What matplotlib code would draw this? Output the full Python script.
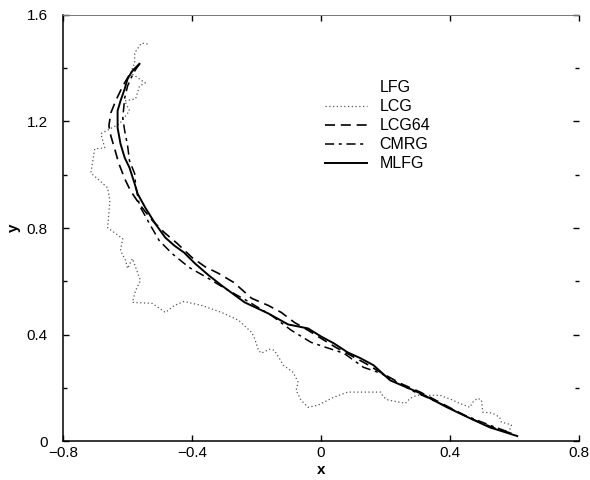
import matplotlib
matplotlib.use("Agg")
import matplotlib.pyplot as plt
from matplotlib.lines import Line2D
from matplotlib.ticker import MultipleLocator

plt.rcParams['font.family'] = ['Liberation Sans', 'DejaVu Sans']

# trajectories
lcg_x = [-0.538, -0.557, -0.578, -0.578, -0.591, -0.545, -0.563, -0.575, -0.609, -0.594,
         -0.625, -0.683, -0.671, -0.702, -0.714, -0.662, -0.655, -0.662, -0.615, -0.622,
         -0.606, -0.600, -0.585, -0.560, -0.575, -0.585, -0.523, -0.483, -0.455, -0.425,
         -0.369, -0.308, -0.255, -0.215, -0.206, -0.194, -0.185, -0.160, -0.145, -0.129,
         -0.117, -0.086, -0.071, -0.077, -0.062, -0.040, -0.009, 0.040, 0.083, 0.132,
         0.185, 0.194, 0.209, 0.262, 0.277, 0.298, 0.369, 0.409, 0.422, 0.462,
         0.471, 0.486, 0.498, 0.502, 0.532, 0.554, 0.560, 0.575, 0.591, 0.585]
lcg_y = [1.491, 1.494, 1.457, 1.419, 1.382, 1.345, 1.333, 1.285, 1.277, 1.240,
         1.191, 1.154, 1.101, 1.097, 1.007, 0.951, 0.903, 0.801, 0.760, 0.715,
         0.678, 0.648, 0.685, 0.603, 0.566, 0.521, 0.517, 0.483, 0.509, 0.524,
         0.509, 0.483, 0.453, 0.408, 0.386, 0.341, 0.330, 0.345, 0.341, 0.311,
         0.285, 0.258, 0.221, 0.191, 0.154, 0.127, 0.135, 0.165, 0.184, 0.184,
         0.184, 0.165, 0.154, 0.142, 0.161, 0.172, 0.172, 0.154, 0.146, 0.127,
         0.146, 0.161, 0.154, 0.109, 0.105, 0.090, 0.071, 0.067, 0.060, 0.041]

lcg64_x = [-0.563, -0.591, -0.615, -0.637, -0.652, -0.658, -0.652, -0.640, -0.628, -0.609,
           -0.591, -0.560, -0.523, -0.486, -0.446, -0.400, -0.360, -0.317, -0.271, -0.215,
           -0.163, -0.123, -0.083, -0.040, 0.000, 0.046, 0.092, 0.138, 0.185, 0.246,
           0.308, 0.385, 0.462, 0.538, 0.600]
lcg64_y = [1.416, 1.382, 1.333, 1.277, 1.232, 1.184, 1.146, 1.097, 1.045, 0.985,
           0.940, 0.884, 0.828, 0.783, 0.742, 0.689, 0.655, 0.629, 0.596, 0.536,
           0.509, 0.483, 0.446, 0.416, 0.386, 0.352, 0.322, 0.292, 0.258, 0.217,
           0.184, 0.135, 0.086, 0.049, 0.026]

cmrg_x = [-0.563, -0.582, -0.600, -0.609, -0.615, -0.609, -0.600, -0.594, -0.578, -0.575,
          -0.563, -0.532, -0.502, -0.462, -0.409, -0.348, -0.298, -0.231, -0.154, -0.092,
          -0.031, 0.015, 0.071, 0.132, 0.185, 0.225, 0.292, 0.369, 0.446, 0.523, 0.591]
cmrg_y = [1.416, 1.382, 1.333, 1.288, 1.213, 1.165, 1.109, 1.052, 1.004, 0.959,
          0.884, 0.816, 0.753, 0.704, 0.652, 0.610, 0.573, 0.528, 0.472, 0.416,
          0.371, 0.352, 0.330, 0.277, 0.255, 0.228, 0.184, 0.142, 0.097, 0.060, 0.030]

mlfg_x = [-0.563, -0.585, -0.600, -0.609, -0.622, -0.631, -0.631, -0.622, -0.609, -0.594,
          -0.578, -0.569, -0.545, -0.514, -0.483, -0.455, -0.425, -0.391, -0.348, -0.308,
          -0.237, -0.163, -0.102, -0.040, 0.000, 0.040, 0.083, 0.123, 0.163, 0.215,
          0.308, 0.391, 0.462, 0.523, 0.609]
mlfg_y = [1.416, 1.390, 1.360, 1.322, 1.277, 1.240, 1.176, 1.116, 1.064, 1.026,
          0.966, 0.929, 0.876, 0.816, 0.764, 0.734, 0.708, 0.667, 0.622, 0.584,
          0.521, 0.479, 0.438, 0.423, 0.393, 0.367, 0.333, 0.311, 0.285, 0.228,
          0.180, 0.127, 0.086, 0.052, 0.019]

x_ticks = [-0.8, -0.4, 0, 0.4, 0.8]
y_ticks = [0, 0.4, 0.8, 1.2, 1.6]

fig = plt.figure(figsize=(5.9, 4.8), dpi=100)
ax = fig.add_axes([0.107, 0.081, 0.874, 0.888])

ax.plot(lcg_x, lcg_y, color='#555555', lw=0.9, linestyle=(0, (1, 2)), label='LCG')
ax.plot(lcg64_x, lcg64_y, color='black', lw=1.2, linestyle=(0, (6, 3.5)), label='LCG64')
ax.plot(cmrg_x, cmrg_y, color='black', lw=1.1, linestyle=(0, (6, 3, 2, 3)), label='CMRG')
ax.plot(mlfg_x, mlfg_y, color='black', lw=1.4, label='MLFG')

ax.set_xlim(-0.8, 0.8)
ax.set_ylim(0, 1.6)
ax.set_xticks(x_ticks)
ax.set_yticks(y_ticks)
ax.set_xticklabels(['\u22120.8', '\u22120.4', '0', '0.4', '0.8'])
ax.set_yticklabels(['0', '0.4', '0.8', '1.2', '1.6'])
ax.yaxis.set_minor_locator(MultipleLocator(0.2))
ax.tick_params(which='both', direction='in', top=True, right=True, labelsize=11, width=1)
ax.tick_params(which='major', length=4)
ax.tick_params(which='minor', length=3)
ax.tick_params(axis='y', pad=11)

ax.set_xlabel('x', fontsize=11, fontweight='bold', labelpad=2)
ax.set_ylabel('y', fontsize=11, fontweight='bold', labelpad=4)

ax.spines['right'].set_visible(False)
ax.spines['top'].set_color('#777777')
ax.spines['top'].set_linewidth(0.7)
ax.spines['left'].set_linewidth(1.1)
ax.spines['bottom'].set_linewidth(1.1)

# LFG appears in the legend without a visible line
handles, labels = ax.get_legend_handles_labels()
handles = [Line2D([], [], linestyle='none')] + handles
labels = ['LFG'] + labels
ax.legend(handles, labels, loc='upper left', bbox_to_anchor=(0.48, 0.88), frameon=False,
          fontsize=11.5, handlelength=2.6, handletextpad=0.8, labelspacing=0.25)

fig.savefig('out.png', dpi=100)
